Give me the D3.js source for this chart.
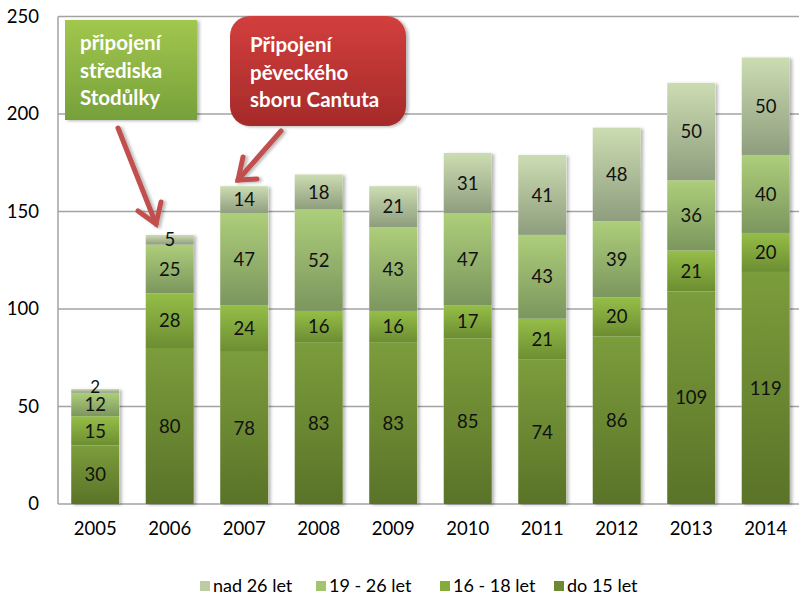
<!DOCTYPE html>
<html><head><meta charset="utf-8">
<script src="https://cdn.jsdelivr.net/npm/d3@7"></script>
<style>
html,body{margin:0;padding:0;background:#fff;}
svg{display:block;font-family:Lato,"Open Sans",sans-serif;}
</style></head>
<body>
<svg id="chart" width="799" height="597"></svg>
<script>
const years = ["2005","2006","2007","2008","2009","2010","2011","2012","2013","2014"];
const do15 = [30,80,78,83,83,85,74,86,109,119];
const age16_18 = [15,28,24,16,16,17,21,20,21,20];
const age19_26 = [12,25,47,52,43,47,43,39,36,40];
const nad26 = [2,5,14,18,21,31,41,48,50,50];
const seriesNames = ["do 15 let","16 - 18 let","19 - 26 let","nad 26 let"];
const seriesValues = [do15, age16_18, age19_26, nad26];
const yTicks = [0,50,100,150,200,250];
const gradColors = [["#7c9d3c","#5a7328"],["#95be47","#6d8d32"],["#adce7a","#7c965e"],["#ccdcb2","#8e9d7d"]];
const legendColors = ["#6b8a33","#84ab3c","#a3c46f","#bccca4"];

const svg = d3.select("#chart");
const defs = svg.append("defs");
gradColors.forEach((c,i)=>{
  const g = defs.append("linearGradient").attr("id","g"+i).attr("x1",0).attr("y1",0).attr("x2",0).attr("y2",1);
  g.append("stop").attr("offset","0%").attr("stop-color",c[0]);
  g.append("stop").attr("offset","100%").attr("stop-color",c[1]);
});
const sh = defs.append("filter").attr("id","shadow").attr("x","-20%").attr("y","-20%").attr("width","150%").attr("height","140%");
sh.append("feDropShadow").attr("dx",2.5).attr("dy",1).attr("stdDeviation",1.8).attr("flood-color","#000").attr("flood-opacity",0.28);

const pLeft = 58, pRight = 803, pTop = 16.5, pBottom = 504;
const x = d3.scaleBand().domain(years).range([pLeft,pRight]).paddingInner(0.355).paddingOuter(0.1775);
const y = d3.scaleLinear().domain([0,250]).range([pBottom,pTop]);

// gridlines
svg.append("g").selectAll("line").data(yTicks).join("line")
  .attr("x1",pLeft).attr("x2",799).attr("y1",d=>y(d)).attr("y2",d=>y(d))
  .attr("stroke","#a3a3a3").attr("stroke-width",1.5);
svg.append("line").attr("x1",pLeft).attr("x2",pLeft).attr("y1",pTop).attr("y2",pBottom)
  .attr("stroke","#a3a3a3").attr("stroke-width",1.5);

// y axis labels
const yAxis = d3.axisLeft(y).tickValues(yTicks).tickSize(0).tickPadding(19);
const ya = svg.append("g").attr("transform",`translate(${pLeft},0)`).call(yAxis);
ya.select(".domain").remove();
ya.selectAll("text").attr("font-size",18.5).attr("fill","#000").attr("font-family","Lato");

// x axis labels
const xAxis = d3.axisBottom(x).tickSize(0).tickPadding(18);
const xa = svg.append("g").attr("transform",`translate(0,${pBottom})`).call(xAxis);
xa.select(".domain").remove();
xa.selectAll("text").attr("font-size",18.5).attr("fill","#000").attr("font-family","Lato");

// stack
const rows = years.map((yr,i)=>{const o={year:yr}; seriesNames.forEach((s,j)=>o[s]=seriesValues[j][i]); return o;});
const stacked = d3.stack().keys(seriesNames)(rows);

// bars with shadow
const barsG = svg.append("g");
years.forEach((yr,i)=>{
  const total = seriesValues.reduce((a,s)=>a+s[i],0);
  barsG.append("rect").attr("x",x(yr)).attr("width",x.bandwidth())
    .attr("y",y(total)).attr("height",y(0)-y(total))
    .attr("fill","#fff").attr("filter","url(#shadow)");
});
stacked.forEach((layer,j)=>{
  barsG.append("g").selectAll("rect").data(layer).join("rect")
    .attr("x",d=>x(d.data.year)).attr("width",x.bandwidth())
    .attr("y",d=>y(d[1])).attr("height",d=>y(d[0])-y(d[1]))
    .attr("fill",`url(#g${j})`);
});
stacked.forEach((layer,j)=>{
  barsG.append("g").selectAll("text").data(layer).join("text")
    .attr("x",d=>x(d.data.year)+x.bandwidth()/2)
    .attr("y",d=>(y(d[0])+y(d[1]))/2 - ((d[1]-d[0])<4 ? 4 : 0))
    .attr("dy","0.36em").attr("text-anchor","middle")
    .attr("font-size",d=>(d[1]-d[0])<4 ? 17 : 18.5).attr("fill","#111")
    .text(d=>d[1]-d[0]);
});

// legend
const legendItems = [
  {name:"nad 26 let", c:legendColors[3], x:200},
  {name:"19 - 26 let", c:legendColors[2], x:316},
  {name:"16 - 18 let", c:legendColors[1], x:440},
  {name:"do 15 let", c:legendColors[0], x:554}
];
const lg = svg.append("g");
legendItems.forEach(it=>{
  lg.append("rect").attr("x",it.x).attr("y",581).attr("width",10).attr("height",10).attr("fill",it.c);
  lg.append("text").attr("x",it.x+13).attr("y",592).attr("font-size",18).attr("fill","#000").text(it.name);
});

// callouts
const cg = defs.append("linearGradient").attr("id","cg").attr("x1",0).attr("y1",0).attr("x2",0).attr("y2",1);
cg.append("stop").attr("offset","0%").attr("stop-color","#a2c74e");
cg.append("stop").attr("offset","100%").attr("stop-color","#76a03a");
const cr = defs.append("linearGradient").attr("id","cr").attr("x1",0).attr("y1",0).attr("x2",0).attr("y2",1);
cr.append("stop").attr("offset","0%").attr("stop-color","#d23f3d");
cr.append("stop").attr("offset","100%").attr("stop-color","#a52a29");

svg.append("rect").attr("x",65).attr("y",20).attr("width",132).attr("height",100)
  .attr("fill","url(#cg)").attr("filter","url(#shadow)");
svg.append("rect").attr("x",230).attr("y",16).attr("width",176).attr("height",110).attr("rx",20)
  .attr("fill","url(#cr)").attr("filter","url(#shadow)");
const greenLines = ["připojení","střediska","Stodůlky"];
const redLines = ["Připojení","pěveckého","sboru Cantuta"];
greenLines.forEach((t,i)=>svg.append("text").attr("x",80).attr("y",50+i*27.5)
  .attr("font-size",20.5).attr("font-weight","bold").attr("fill","#fff").text(t));
redLines.forEach((t,i)=>svg.append("text").attr("x",250).attr("y",52+i*27.5)
  .attr("font-size",20.5).attr("font-weight","bold").attr("fill","#fff").text(t));

// arrows
const arrowColor = "#c0504d";
function arrow(x1,y1,x2,y2,w1,w2){
  const g = svg.append("g").attr("stroke",arrowColor).attr("stroke-width",5).attr("stroke-linecap","round").attr("fill","none").attr("filter","url(#shadow)");
  g.append("line").attr("x1",x1).attr("y1",y1).attr("x2",x2).attr("y2",y2);
  g.append("path").attr("d",`M${w1[0]},${w1[1]} L${x2},${y2} L${w2[0]},${w2[1]}`).attr("stroke-linejoin","miter");
}
arrow(118,128,156,224,[138,211],[161,202]);
arrow(281,131,238,180,[243,157],[257,179]);
</script>
</body></html>
